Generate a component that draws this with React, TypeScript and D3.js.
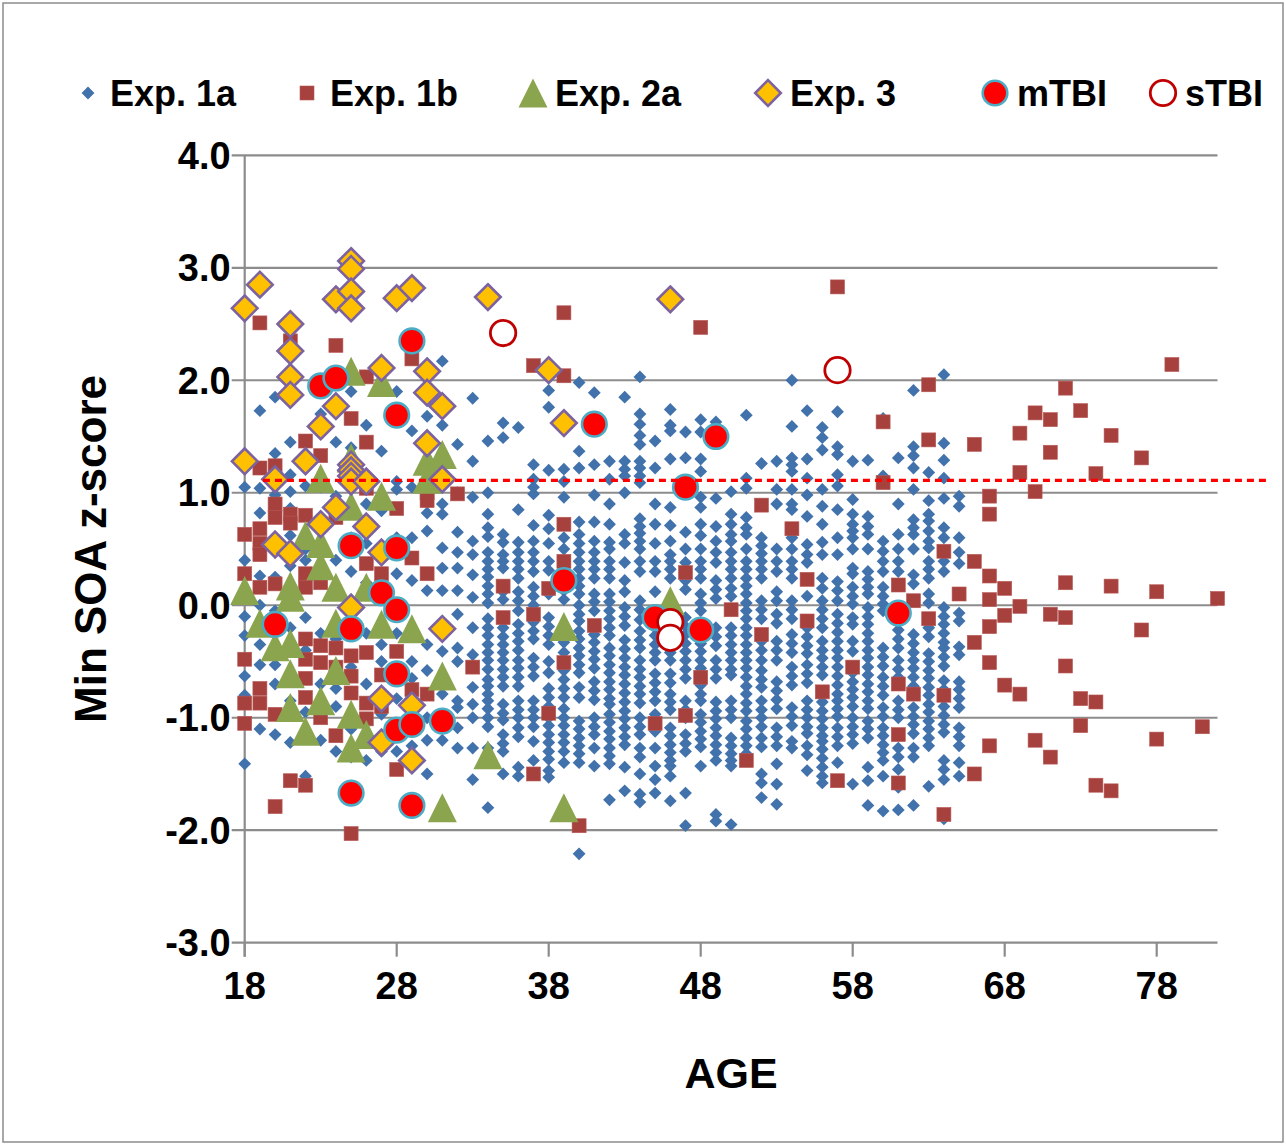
import React from 'react';
import * as d3 from 'd3';

const xTicks = [18, 28, 38, 48, 58, 68, 78];
const yTicks = [-3, -2, -1, 0, 1, 2, 3, 4];
const legendLabels = ['Exp. 1a', 'Exp. 1b', 'Exp. 2a', 'Exp. 3', 'mTBI', 'sTBI'];
const threshold = 1.11;
const thresholdAges = [19.2, 85.5];

// Exp. 1a: z-scores per age
const exp1a: [number, number[]][] = [
  [18, [1.05, 0.40, -0.10, -0.27, -0.63, -0.80, -1.41]],
  [19, [1.73, 1.04, 0.82, 0.26, 0.00, -0.35, -0.53, -1.10]],
  [20, [1.85, 1.35, 0.98, 0.25, -0.05, -0.53, -0.70, -1.15]],
  [21, [1.45, 1.16, 1.01, 0.86, 0.62, 0.35, -0.20, -0.85, -1.22]],
  [22, [1.06, 0.50, 0.40, -0.11, -0.40, -0.95, -1.52]],
  [23, [1.70, 1.05, 0.30, -0.25, -0.70, -1.20]],
  [24, [1.45, 0.97, 0.40, -0.30, -0.74, -0.90, -1.30]],
  [25, [1.90, 1.40, 0.84, 0.60, 0.30, -0.55, -1.10, -1.35]],
  [26, [1.60, 0.90, 0.55, 0.20, -0.25, -0.70, -1.38]],
  [27, [1.37, 0.84, 0.20, -0.35, -0.50, -0.97, -1.30]],
  [28, [1.90, 1.10, 1.03, 0.60, 0.28, -0.25, -0.83, -1.30]],
  [29, [1.55, 1.05, 0.60, 0.22, -0.50, -0.65, -1.25]],
  [30, [1.68, 1.20, 0.82, 0.66, 0.13, -0.35, -0.58, -1.00, -1.20, -1.50]],
  [31, [2.17, 1.60, 0.90, 0.81, 0.51, 0.33, 0.13, -0.41, -0.79, -1.20]],
  [32, [1.43, 1.00, 0.65, 0.47, 0.33, 0.13, -0.08, -0.38, -0.50, -0.85, -0.91, -1.09, -1.27]],
  [33, [1.84, 1.28, 0.96, 0.57, 0.45, 0.27, 0.07, -0.20, -0.44, -0.73, -0.88, -1.00, -1.27, -1.55]],
  [34, [1.46, 1.00, 0.81, 0.69, 0.61, 0.47, 0.39, 0.32, 0.25, 0.17, 0.10, 0.02, -0.12, -0.20, -0.27, -0.35, -0.42, -0.49, -0.57, -0.66, -0.72, -0.79, -0.85, -0.92, -1.00, -1.08, -1.27, -1.35, -1.80]],
  [35, [1.62, 1.49, 0.63, 0.56, 0.45, 0.39, 0.33, 0.12, 0.05, -0.12, -0.20, -0.28, -0.35, -0.42, -0.49, -0.57, -0.64, -0.72, -0.88, -0.96, -1.02, -1.15, -1.23, -1.30, -1.50]],
  [36, [1.58, 0.85, 0.56, 0.47, 0.39, 0.32, 0.24, 0.12, 0.04, -0.05, -0.17, -0.25, -0.32, -0.40, -0.49, -0.56, -0.64, -0.72, -0.85, -0.93, -1.00, -1.09, -1.17, -1.44, -1.52]],
  [37, [1.25, 1.12, 1.05, 0.99, 0.71, 0.57, 0.47, 0.39, 0.30, 0.16, 0.08, 0.00, -0.15, -0.23, -0.30, -0.47, -0.55, -0.63, -0.85, -0.93, -1.00, -1.08, -1.21, -1.38]],
  [38, [1.91, 1.76, 1.20, 0.80, 0.68, 0.55, 0.39, 0.31, 0.10, -0.11, -0.19, -0.27, -0.35, -0.50, -0.60, -0.74, -0.82, -0.90, -1.00, -1.07, -1.15, -1.22, -1.30, -1.37, -1.47, -1.53]],
  [39, [1.21, 1.10, 0.96, 0.60, 0.50, 0.13, 0.05, -0.33, -0.42, -0.58, -0.66, -0.74, -0.82, -0.92, -1.00, -1.07, -1.15, -1.22, -1.30, -1.40]],
  [40, [1.98, 1.37, 1.22, 0.74, 0.63, 0.55, 0.47, 0.39, 0.32, 0.24, 0.17, 0.10, 0.00, -0.08, -0.14, -0.23, -0.30, -0.38, -0.45, -0.53, -0.60, -0.73, -0.82, -1.03, -1.10, -1.18, -1.25, -1.32, -1.40, -2.21]],
  [41, [1.89, 1.25, 0.98, 0.74, 0.57, 0.47, 0.39, 0.32, 0.24, 0.10, 0.03, -0.05, -0.26, -0.33, -0.41, -0.48, -0.56, -0.68, -0.76, -0.84, -1.00, -1.08, -1.15, -1.27, -1.43]],
  [42, [1.28, 1.12, 0.90, 0.72, 0.56, 0.50, 0.39, 0.32, 0.24, 0.10, 0.03, -0.05, -0.12, -0.20, -0.27, -0.38, -0.45, -0.53, -0.60, -0.68, -0.75, -0.83, -0.88, -0.97, -1.04, -1.12, -1.19, -1.27, -1.34, -1.41, -1.73]],
  [43, [1.85, 1.28, 1.21, 1.15, 1.00, 0.63, 0.55, 0.38, 0.22, 0.12, -0.02, -0.10, -0.18, -0.31, -0.39, -0.47, -0.55, -0.62, -0.70, -0.78, -0.86, -0.94, -1.01, -1.09, -1.17, -1.24, -1.44, -1.65]],
  [44, [2.03, 1.70, 1.61, 1.51, 1.43, 1.28, 1.22, 1.15, 1.09, 0.77, 0.70, 0.64, 0.57, 0.50, 0.39, 0.30, 0.04, -0.04, -0.13, -0.23, -0.31, -0.38, -0.49, -0.57, -0.64, -0.72, -0.79, -0.87, -1.00, -1.08, -1.15, -1.27, -1.35, -1.50, -1.68, -1.75]],
  [45, [1.46, 1.22, 0.90, 0.72, 0.55, 0.39, 0.30, 0.12, -0.20, -0.27, -0.35, -0.42, -0.49, -0.61, -0.69, -0.77, -0.85, -0.97, -1.05, -1.12, -1.27, -1.43, -1.55, -1.67]],
  [46, [1.74, 1.60, 1.55, 1.30, 0.87, 0.71, 0.57, 0.45, 0.39, 0.32, 0.24, -0.20, -0.27, -0.35, -0.42, -0.49, -0.61, -0.69, -0.79, -0.86, -0.93, -1.09, -1.16, -1.24, -1.31, -1.38, -1.43, -1.52, -1.74]],
  [47, [1.54, 1.31, 0.99, 0.65, 0.50, 0.38, 0.22, 0.14, -0.11, -0.19, -0.26, -0.34, -0.41, -0.49, -0.57, -0.65, -0.85, -0.93, -1.00, -1.15, -1.23, -1.30, -1.67, -1.96]],
  [48, [1.65, 1.54, 1.30, 1.19, 0.96, 0.87, 0.72, 0.62, 0.50, 0.39, 0.32, 0.24, 0.10, 0.02, -0.05, -0.26, -0.34, -0.41, -0.49, -0.56, -0.71, -0.79, -0.85, -0.97, -1.04, -1.12, -1.19, -1.26, -1.43]],
  [49, [1.63, 0.95, 0.70, 0.57, 0.47, 0.38, 0.22, 0.14, 0.06, -0.20, -0.28, -0.36, -0.49, -0.57, -0.65, -0.86, -0.94, -1.01, -1.09, -1.16, -1.24, -1.31, -1.38, -1.86, -1.92]],
  [50, [1.01, 0.81, 0.72, 0.63, 0.57, 0.47, 0.39, 0.32, 0.24, 0.15, 0.08, -0.20, -0.27, -0.35, -0.42, -0.49, -0.57, -0.62, -0.85, -0.93, -1.00, -1.18, -1.25, -1.32, -1.38, -1.43, -1.95]],
  [51, [1.69, 1.13, 1.04, 0.78, 0.69, 0.63, 0.50, 0.39, 0.32, 0.24, 0.17, 0.10, 0.02, -0.05, -0.12, -0.20, -0.27, -0.35, -0.42, -0.49, -0.56, -0.64, -0.72, -0.79, -0.87, -0.94, -1.03, -1.10, -1.18, -1.25, -1.32]],
  [52, [1.26, 0.60, 0.53, 0.46, 0.39, 0.32, 0.24, 0.04, -0.04, -0.12, -0.32, -0.40, -0.49, -0.58, -0.66, -0.73, -0.85, -0.93, -1.00, -1.08, -1.18, -1.26, -1.50, -1.58, -1.71]],
  [53, [1.28, 1.03, 0.90, 0.50, 0.39, 0.30, 0.12, 0.04, -0.08, -0.16, -0.32, -0.40, -0.49, -0.68, -0.76, -0.84, -0.92, -1.09, -1.17, -1.25, -1.41, -1.59, -1.77]],
  [54, [2.00, 1.59, 1.31, 1.25, 1.19, 1.03, 0.90, 0.85, 0.60, 0.50, 0.39, 0.32, 0.24, 0.04, -0.04, -0.12, -0.26, -0.34, -0.42, -0.55, -0.63, -0.71, -0.91, -0.99, -1.07, -1.21, -1.27]],
  [55, [1.73, 1.30, 1.13, 0.98, 0.79, 0.54, 0.45, 0.38, 0.08, -0.20, -0.28, -0.36, -0.43, -0.53, -0.61, -0.69, -0.85, -0.93, -1.00, -1.08, -1.14, -1.25, -1.33, -1.47]],
  [56, [1.58, 1.49, 1.38, 1.03, 0.88, 0.72, 0.56, 0.45, 0.24, 0.15, 0.04, -0.04, -0.12, -0.20, -0.32, -0.40, -0.47, -0.55, -0.62, -0.86, -0.94, -1.01, -1.09, -1.16, -1.21, -1.28, -1.36, -1.44, -1.52, -1.58]],
  [57, [1.72, 1.41, 1.34, 1.16, 1.06, 0.85, 0.60, 0.45, 0.21, 0.13, 0.04, -0.08, -0.16, -0.24, -0.32, -0.40, -0.47, -0.55, -0.63, -0.71, -0.79, -0.85, -0.92, -0.99, -1.09, -1.17, -1.25, -1.40]],
  [58, [1.28, 0.94, 0.81, 0.72, 0.66, 0.60, 0.50, 0.33, 0.28, 0.16, 0.08, 0.01, -0.11, -0.17, -0.32, -0.41, -0.60, -0.68, -0.75, -0.82, -0.90, -1.00, -1.08, -1.15, -1.23, -1.59]],
  [59, [1.29, 0.79, 0.70, 0.63, 0.50, 0.30, 0.23, 0.16, 0.10, -0.02, -0.10, -0.17, -0.25, -0.32, -0.40, -0.47, -0.55, -0.62, -0.70, -0.77, -0.85, -0.92, -1.03, -1.10, -1.18, -1.44, -1.56, -1.78]],
  [60, [1.66, 1.15, 0.57, 0.48, 0.39, 0.30, 0.16, 0.08, 0.01, -0.05, -0.38, -0.46, -0.54, -0.64, -0.72, -0.80, -0.91, -0.99, -1.09, -1.16, -1.24, -1.31, -1.38, -1.52, -1.83]],
  [61, [1.31, 0.90, 0.63, 0.50, 0.39, 0.30, -0.14, -0.22, -0.30, -0.38, -0.49, -0.57, -0.64, -0.85, -0.93, -1.00, -1.27, -1.35, -1.46, -1.62, -1.82]],
  [62, [1.91, 1.41, 1.33, 1.22, 1.03, 0.76, 0.69, 0.63, 0.50, 0.27, 0.19, -0.26, -0.34, -0.42, -0.49, -0.56, -0.64, -0.72, -0.79, -0.91, -0.99, -1.06, -1.14, -1.27, -1.35, -1.78]],
  [63, [1.18, 0.93, 0.81, 0.75, 0.66, 0.57, 0.51, 0.39, 0.32, 0.24, 0.10, 0.02, -0.20, -0.28, -0.43, -0.50, -0.58, -0.65, -0.73, -0.80, -0.88, -0.95, -1.03, -1.10, -1.18, -1.25, -1.61]],
  [64, [2.05, 1.44, 1.29, 1.13, 0.95, 0.69, 0.60, 0.39, 0.30, -0.02, -0.10, -0.17, -0.25, -0.33, -0.38, -0.46, -0.54, -0.67, -0.75, -0.83, -0.90, -0.98, -1.06, -1.13, -1.38, -1.46, -1.55, -1.90]],
  [65, [0.97, 0.88, 0.60, 0.47, 0.37, 0.10, -0.07, -0.14, -0.37, -0.44, -0.68, -0.75, -0.83, -0.91, -1.09, -1.17, -1.25, -1.40, -1.52]],
];

// Exp. 1b: z-scores per age
const exp1b: [number, number[]][] = [
  [18, [0.63, 0.28, -0.48, -0.87, -1.05]],
  [19, [2.51, 1.22, 0.68, 0.55, 0.45, 0.16, -0.74, -0.87]],
  [20, [1.24, 0.90, 0.78, 0.19, -0.97, -1.79]],
  [21, [2.35, 0.81, 0.73, 0.04, -1.56]],
  [22, [1.46, 0.80, 0.28, 0.16, -0.30, -0.48, -0.65, -0.82, -1.60]],
  [23, [1.33, 0.20, -0.36, -0.51, -1.00]],
  [24, [2.31, 0.78, -0.38, -0.55, -1.16]],
  [25, [1.66, -0.45, -0.63, -0.78, -2.03]],
  [26, [2.03, 1.45, 1.04, 0.37, -0.42, -0.87, -1.01]],
  [27, [0.28, -0.62, -0.90]],
  [28, [0.86, -0.41, -1.46]],
  [29, [2.19, 0.42, -0.75]],
  [30, [1.00, 0.93, 0.28, -0.79]],
  [32, [0.99]],
  [33, [-0.55]],
  [35, [0.17, -0.11]],
  [37, [2.13, -0.08, -1.50]],
  [38, [0.15, -0.96]],
  [39, [2.60, 2.04, 0.72, 0.39, -0.51]],
  [40, [-1.96]],
  [41, [-0.18]],
  [45, [-1.05]],
  [47, [0.29, -0.98]],
  [48, [2.47, -0.64]],
  [50, [-0.04]],
  [51, [-1.38]],
  [52, [0.89, -0.26]],
  [54, [0.68]],
  [55, [0.23, -0.14]],
  [56, [-0.77]],
  [57, [2.83, -1.56]],
  [58, [-0.55]],
  [60, [1.63, 1.09]],
  [61, [0.18, -0.70, -1.15, -1.58]],
  [62, [0.04, -0.79]],
  [63, [1.96, 1.47, -0.12]],
  [64, [0.48, -0.80, -1.86]],
  [65, [0.10]],
  [66, [1.43, 0.39, -0.33, -1.50]],
  [67, [0.97, 0.81, 0.26, 0.05, -0.19, -0.51, -1.25]],
  [68, [0.15, -0.09, -0.71]],
  [69, [1.53, 1.18, -0.01, -0.79]],
  [70, [1.71, 1.01, -1.20]],
  [71, [1.65, 1.36, -0.08, -1.35]],
  [72, [1.93, 0.20, -0.11, -0.54]],
  [73, [1.73, -0.83, -1.07]],
  [74, [1.17, -0.86, -1.60]],
  [75, [1.51, 0.17, -1.65]],
  [77, [1.31, -0.22]],
  [78, [0.12, -1.19]],
  [79, [2.14]],
  [81, [-1.08]],
  [82, [0.06]],
];

// Exp. 2a: [age, z]
const exp2a: [number, number][] = [
  [18, 0.13], [19, -0.16], [20, -0.37], [21, 0.17], [21, 0.07], [21, -0.34], [21, -0.61], [21, -0.91],
  [22, 0.62], [22, -1.12], [23, 1.13], [23, 0.55], [23, 0.35], [23, -0.85], [24, 0.16], [24, -0.16],
  [24, -0.58], [25, 2.08], [25, 1.31], [25, 0.88], [25, -0.97], [25, -1.27], [26, 0.16], [26, -1.15],
  [27, 1.98], [27, 0.97], [27, -0.17], [29, -0.21], [30, 1.28], [30, 1.12], [31, 1.34], [31, -0.63],
  [31, -1.80], [34, -1.33], [39, -0.19], [39, -1.80], [46, 0.04],
];

// Exp. 3: [age, z]
const exp3: [number, number][] = [
  [18, 2.64], [19, 2.85], [18, 1.28], [21, 2.50], [21, 2.26], [21, 2.03], [21, 1.87], [20, 1.12],
  [20, 0.54], [21, 0.46], [22, 1.28], [23, 1.59], [23, 0.72], [24, 2.72], [24, 1.77], [24, 0.87],
  [25, 3.06], [25, 2.99], [25, 2.79], [25, 2.64], [25, 1.25], [25, 1.20], [25, 1.15], [25, 1.10],
  [25, -0.02], [26, 1.10], [26, 0.70], [27, 2.11], [27, 0.47], [27, -0.83], [27, -1.22], [28, 2.73],
  [29, 2.82], [29, -0.89], [29, -1.38], [30, 2.08], [30, 1.89], [30, 1.44], [31, 1.77], [31, 1.12],
  [31, -0.21], [34, 2.74], [38, 2.09], [39, 1.62], [46, 2.72],
];

// mTBI: [age, z]
const mTBI: [number, number][] = [
  [20, -0.17], [23, 1.95], [24, 2.02], [25, 0.53], [25, -0.21], [25, -1.67], [27, 0.11], [28, 1.69],
  [28, 0.51], [28, -0.04], [28, -0.61], [28, -1.11], [29, 2.35], [29, -1.06], [29, -1.78], [31, -1.03],
  [39, 0.22], [41, 1.61], [45, -0.11], [47, 1.05], [48, -0.22], [49, 1.50], [61, -0.07],
];

// sTBI: [age, z]
const sTBI: [number, number][] = [[35, 2.42], [46, -0.15], [46, -0.29], [57, 2.09]];

const FONT = "'Liberation Sans', Arial, sans-serif";
const C = {
  blue: '#4272AC',
  brown: '#A6413E',
  green: '#8BA54F',
  yellow: '#FFC000',
  purple: '#7D62A0',
  red: '#FF0000',
  teal: '#4BACC6',
  darkRed: '#C00000',
  grid: '#8C8C8C',
};

const diamondPath = (cx: number, cy: number, r: number) =>
  `M${cx},${cy - r}L${cx + r},${cy}L${cx},${cy + r}L${cx - r},${cy}Z`;
const trianglePath = (cx: number, cy: number, w: number, h: number) =>
  `M${cx},${cy - h / 2}L${cx + w / 2},${cy + h / 2}L${cx - w / 2},${cy + h / 2}Z`;

function Marker({ kind, cx, cy }: { kind: number; cx: number; cy: number }) {
  switch (kind) {
    case 0:
      return <path d={diamondPath(cx, cy, 6.4)} fill={C.blue} />;
    case 1:
      return <rect x={cx - 7} y={cy - 7} width={14} height={14} fill={C.brown} stroke="#B85956" strokeWidth={0.6} />;
    case 2:
      return <path d={trianglePath(cx, cy, 29, 29)} fill={C.green} />;
    case 3:
      return <path d={diamondPath(cx, cy, 12.8)} fill={C.yellow} stroke={C.purple} strokeWidth={2.6} />;
    case 4:
      return <circle cx={cx} cy={cy} r={12.3} fill={C.red} stroke={C.teal} strokeWidth={2.6} />;
    default:
      return <circle cx={cx} cy={cy} r={12.7} fill="#FFFFFF" stroke={C.darkRed} strokeWidth={2.8} />;
  }
}

export default function App() {
  const W = 1286;
  const H = 1144;
  const x = d3.scaleLinear().domain([18, 82]).range([244.7, 1217.5]);
  const y = d3.scaleLinear().domain([-3, 4]).range([942.7, 155.3]);

  const flat = (rows: [number, number[]][]) =>
    rows.flatMap(([a, zs]) => zs.map((z) => [a, z] as [number, number]));
  const series: [number, number][][] = [flat(exp1a), flat(exp1b), exp2a, exp3, mTBI, sTBI];

  const legendMarkerX = [88, 307, 533, 768, 995, 1163];
  const legendTextX = [110, 330, 555, 790, 1017, 1185];

  return (
    <svg
      width={W}
      height={H}
      style={{ position: 'absolute', left: 0, top: 0, background: '#fff' }}
      fontFamily={FONT}
      fontWeight="bold"
    >
      <rect x={0} y={0} width={W} height={H} fill="#fff" />
      <rect x={3} y={3} width={W - 6} height={H - 5} fill="none" stroke="#8C8C8C" strokeWidth={1.5} />

      {/* gridlines */}
      {yTicks.map((t) => (
        <line key={'g' + t} x1={x(18) - 13} x2={x(82)} y1={y(t)} y2={y(t)} stroke={C.grid} strokeWidth={2.2} />
      ))}
      {/* y axis */}
      <line x1={x(18)} x2={x(18)} y1={y(4)} y2={y(-3) + 14} stroke={C.grid} strokeWidth={2.2} />
      {xTicks.map((t) => (
        <line key={'xt' + t} x1={x(t)} x2={x(t)} y1={y(-3)} y2={y(-3) + 14} stroke={C.grid} strokeWidth={2.2} />
      ))}

      {/* tick labels */}
      {yTicks.map((t) => (
        <text key={'yl' + t} x={x(18) - 14} y={y(t) + 13.5} textAnchor="end" fontSize={38} fill="#000">
          {t.toFixed(1)}
        </text>
      ))}
      {xTicks.map((t) => (
        <text key={'xl' + t} x={x(t)} y={999} textAnchor="middle" fontSize={38} fill="#000">
          {t}
        </text>
      ))}

      {/* axis titles */}
      <text x={(x(18) + x(82)) / 2} y={1088} textAnchor="middle" fontSize={43} fill="#000">
        AGE
      </text>
      <text
        transform={`translate(106, ${(y(4) + y(-3)) / 2}) rotate(-90)`}
        textAnchor="middle"
        fontSize={44}
        fill="#000"
      >
        Min SOA z-score
      </text>

      {/* series */}
      {series.map((pts, si) => (
        <g key={'s' + si}>
          {pts.map(([a, z], i) => (
            <Marker key={i} kind={si} cx={x(a)} cy={y(z)} />
          ))}
        </g>
      ))}

      {/* threshold line */}
      <line
        x1={x(thresholdAges[0])}
        x2={x(thresholdAges[1])}
        y1={y(threshold)}
        y2={y(threshold)}
        stroke={C.red}
        strokeWidth={3.4}
        strokeDasharray="7 5"
      />

      {/* legend */}
      {legendLabels.map((lab, i) => (
        <g key={'lg' + i}>
          <Marker kind={i} cx={legendMarkerX[i]} cy={93} />
          <text x={legendTextX[i]} y={106} fontSize={36} fill="#000">
            {lab}
          </text>
        </g>
      ))}
    </svg>
  );
}
